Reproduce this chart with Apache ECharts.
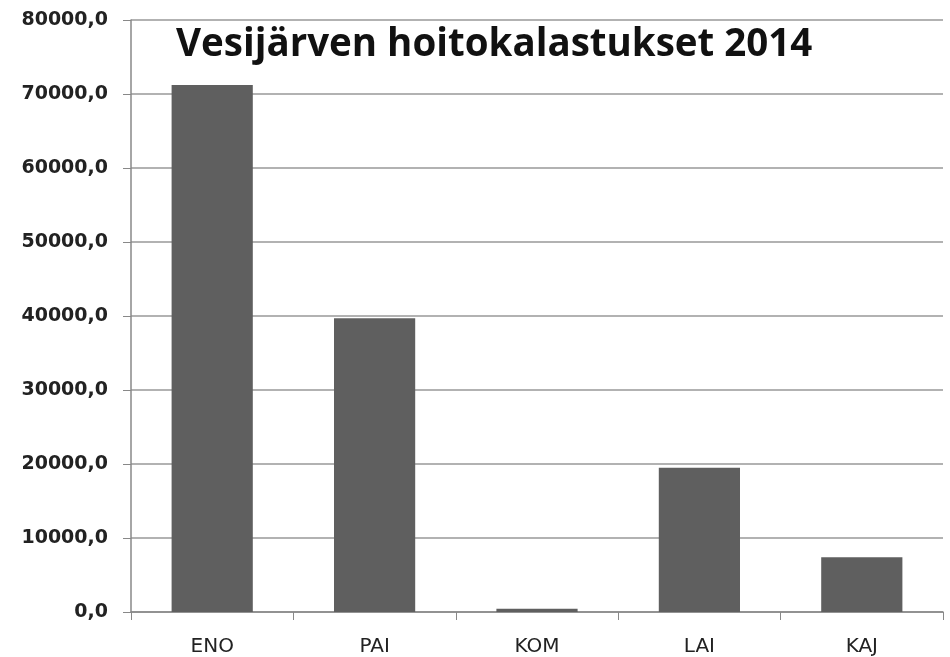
<!DOCTYPE html>
<html>
<head>
<meta charset="utf-8">
<script src="https://cdn.jsdelivr.net/npm/echarts@6/dist/echarts.min.js"></script>
<style>
  html, body { margin: 0; padding: 0; background: #fff; }
  #main { width: 950px; height: 657px; }
</style>
</head>
<body>
<div id="main"></div>
<script>
// kategoriat ja arvot (kg)
var categories = ['ENO', 'PAI', 'KOM', 'LAI', 'KAJ'];
var values = [71200, 39700, 450, 19500, 7400];
var yMax = 80000;
var yStep = 10000;

var chart = echarts.init(document.getElementById('main'));

chart.setOption({
    animation: false,
    title: {
        text: 'Vesijärven hoitokalastukset 2014',
        left: 171,
        top: 21,
        textStyle: {
            fontFamily: 'Open Sans',
            fontSize: 38.5,
            fontWeight: 'bold',
            color: '#111'
        }
    },
    grid: {
        left: 131,
        right: 7,
        top: 20,
        bottom: 45
    },
    xAxis: {
        type: 'category',
        data: categories,
        axisLine: { lineStyle: { color: '#888', width: 1.5 } },
        axisTick: { show: true, length: 8, lineStyle: { color: '#888' } },
        axisLabel: {
            margin: 25,
            fontFamily: 'DejaVu Sans',
            fontSize: 20,
            color: '#222'
        }
    },
    yAxis: {
        type: 'value',
        min: 0,
        max: yMax,
        interval: yStep,
        axisLine: { show: true, lineStyle: { color: '#888', width: 1.5 } },
        axisTick: { show: true, length: 8, lineStyle: { color: '#888' } },
        splitLine: { lineStyle: { color: '#999', width: 1.5 } },
        axisLabel: {
            margin: 23,
            fontFamily: 'DejaVu Sans',
            fontSize: 19,
            fontWeight: 'bold',
            color: '#222',
            formatter: function (v) {
                return v.toFixed(1).replace('.', ',');
            }
        }
    },
    series: [{
        type: 'bar',
        data: values,
        barCategoryGap: '50%',
        itemStyle: { color: '#5f5f5f' }
    }]
});
</script>
</body>
</html>
